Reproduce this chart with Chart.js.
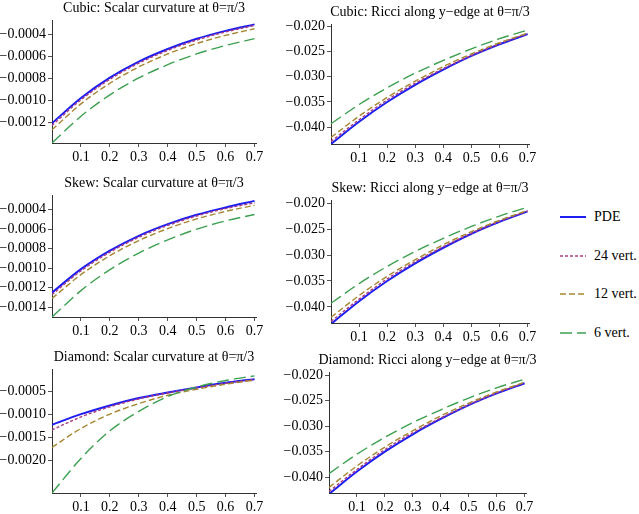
<!DOCTYPE html>
<html><head><meta charset="utf-8">
<script src="https://cdn.jsdelivr.net/npm/chart.js@4"></script>
<style>
body{margin:0;background:#fff;width:639px;height:514px;position:relative;overflow:hidden;font-family:"Liberation Serif",serif}
canvas{position:absolute}
#legend{position:absolute;left:560px;top:198px;font-size:14px}
.li{height:38.5px;display:flex;align-items:center}
.li svg{margin-right:8px}
</style></head><body>
<div id="legend"></div>
<script>
const xs=[0,0.1,0.2,0.3,0.4,0.5,0.6,0.7];
const xTicks=[0.1,0.2,0.3,0.4,0.5,0.6,0.7];
const seriesNames=["PDE","24 vert.","12 vert.","6 vert."];
// Cubic scalar
const cubicS_PDE=[-0.00121,-0.000980,-0.000795,-0.000649,-0.000534,-0.000441,-0.000369,-0.00031];
const cubicS_24=[-0.00123,-0.000997,-0.000810,-0.000663,-0.000547,-0.000453,-0.000379,-0.00032];
const cubicS_12=[-0.00127,-0.001034,-0.000846,-0.000697,-0.000579,-0.000484,-0.000410,-0.00035];
const cubicS_6=[-0.00139,-0.001147,-0.000952,-0.000798,-0.000677,-0.000579,-0.000502,-0.00044];
// Skew scalar
const skewS_PDE=[-0.00125,-0.001010,-0.000820,-0.000668,-0.000549,-0.000453,-0.000378,-0.00031];
const skewS_24=[-0.00127,-0.001028,-0.000836,-0.000683,-0.000562,-0.000465,-0.000389,-0.00033];
const skewS_12=[-0.00131,-0.001066,-0.000872,-0.000717,-0.000594,-0.000495,-0.000418,-0.000356];
const skewS_6=[-0.00150,-0.001230,-0.001015,-0.000845,-0.000710,-0.000600,-0.000515,-0.00045];
// Diamond scalar
const diaS_PDE=[-0.00122,-0.00099,-0.00080,-0.00064,-0.00052,-0.00041,-0.00031,-0.00023];
const diaS_24=[-0.00133,-0.00105,-0.00083,-0.00066,-0.00053,-0.00042,-0.00032,-0.00024];
const diaS_12=[-0.00171,-0.00130,-0.00099,-0.00076,-0.00058,-0.00045,-0.00034,-0.00025];
const diaS_6=[-0.00270,-0.00195,-0.00135,-0.00093,-0.00061,-0.00040,-0.00026,-0.00016];
// Ricci (all geometries)
const ricci_PDE=[-0.0433,-0.0389,-0.0350,-0.0316,-0.0286,-0.0259,-0.0236,-0.0216];
const ricci_24=[-0.0428,-0.0385,-0.0346,-0.0313,-0.0284,-0.0258,-0.0235,-0.0215];
const ricci_12=[-0.0420,-0.0378,-0.0341,-0.0309,-0.0280,-0.0255,-0.0233,-0.0214];
const ricci_6=[-0.0393,-0.0355,-0.0322,-0.0293,-0.0268,-0.0245,-0.0225,-0.0208];
const ticksCubicS=[-0.0012,-0.0010,-0.0008,-0.0006,-0.0004];
const ticksSkewS=[-0.0014,-0.0012,-0.0010,-0.0008,-0.0006,-0.0004];
const ticksDiaS=[-0.0020,-0.0015,-0.0010,-0.0005];
const ticksRicci=[-0.040,-0.035,-0.030,-0.025,-0.020];

const styles=[
 {c:"rgb(30,30,240)",w:2,d:[]},
 {c:"rgb(170,60,130)",w:1.4,d:[3,2]},
 {c:"rgb(165,135,50)",w:1.4,d:[6,3]},
 {c:"rgb(60,160,80)",w:1.4,d:[12,5]}];

const panels=[
 {t:"Cubic: Scalar curvature at θ=π/3",L:52,R:256,T:20,B:143,ymin:-0.00139,ymax:-0.00027,ticks:ticksCubicS,dec:4,data:[cubicS_PDE,cubicS_24,cubicS_12,cubicS_6]},
 {t:"Cubic: Ricci along y−edge at θ=π/3",L:331,R:529,T:24,B:144,ymin:-0.0433,ymax:-0.0196,ticks:ticksRicci,dec:3,data:[ricci_PDE,ricci_24,ricci_12,ricci_6]},
 {t:"Skew: Scalar curvature at θ=π/3",L:52,R:256,T:195,B:317,ymin:-0.00150,ymax:-0.00025,ticks:ticksSkewS,dec:4,data:[skewS_PDE,skewS_24,skewS_12,skewS_6]},
 {t:"Skew: Ricci along y−edge at θ=π/3",L:331,R:529,T:200,B:323,ymin:-0.0431,ymax:-0.0194,ticks:ticksRicci,dec:3,data:[ricci_PDE,ricci_24,ricci_12,ricci_6]},
 {t:"Diamond: Scalar curvature at θ=π/3",L:52,R:256,T:369,B:493,ymin:-0.0027,ymax:-0.00001,ticks:ticksDiaS,dec:4,data:[diaS_PDE,diaS_24,diaS_12,diaS_6]},
 {t:"Diamond: Ricci along y−edge at θ=π/3",L:329,R:526,T:372,B:493,ymin:-0.0431,ymax:-0.0194,ticks:ticksRicci,dec:3,data:[ricci_PDE,ricci_24,ricci_12,ricci_6]}];

const FONT={family:"Liberation Serif",size:14};
panels.forEach(p=>{
 const cv=document.createElement('canvas');
 const w=(p.R-p.L)+52+10,h=(p.B-p.T)+22+24;
 cv.width=w;cv.height=h;cv.style.left=(p.L-52)+'px';cv.style.top=(p.T-22)+'px';
 cv.style.width=w+'px';cv.style.height=h+'px';
 document.body.appendChild(cv);
 new Chart(cv,{type:'line',
  data:{datasets:p.data.map((arr,i)=>({label:seriesNames[i],data:xs.map((x,j)=>({x:x,y:arr[j]})),
    borderColor:styles[i].c,borderWidth:styles[i].w,borderDash:styles[i].d,pointRadius:0,cubicInterpolationMode:'monotone',fill:false})).reverse()},
  options:{responsive:false,animation:false,devicePixelRatio:1,
   layout:{padding:{top:22,right:10,left:0,bottom:0}},
   plugins:{legend:{display:false},tooltip:{enabled:false}},
   scales:{
    x:{type:'linear',min:0,max:0.705,afterFit:s=>{s.height=24},
      afterBuildTicks:s=>{s.ticks=xTicks.map(v=>({value:v}))},
      ticks:{font:FONT,color:'#000',padding:2,callback:v=>v.toFixed(1)},
      grid:{drawOnChartArea:false,tickLength:4,color:'#555'},border:{color:'#333'}},
    y:{min:p.ymin,max:p.ymax,afterFit:s=>{s.width=52},
      afterBuildTicks:s=>{s.ticks=p.ticks.map(v=>({value:v}))},
      ticks:{font:FONT,color:'#000',padding:2,callback:v=>(v<0?'−':'')+Math.abs(v).toFixed(p.dec)},
      grid:{drawOnChartArea:false,tickLength:4,color:'#555'},border:{color:'#333'}}}},
  plugins:[{id:'ttl',afterDraw(c){const x=c.ctx;x.save();x.font='14px "Liberation Serif"';x.fillStyle='#000';x.textAlign='center';x.textBaseline='middle';
    x.fillText(p.t,(c.chartArea.left+c.chartArea.right)/2,10);x.restore();}}]
 });
});
const lg=document.getElementById('legend');
seriesNames.forEach((n,i)=>{const s=styles[i];
 lg.insertAdjacentHTML('beforeend',`<div class="li"><svg width="26" height="6"><line x1="0" y1="3" x2="26" y2="3" stroke="${s.c}" stroke-width="${s.w}" stroke-dasharray="${s.d.join(',')}"/></svg><span>${n}</span></div>`);});
</script></body></html>
